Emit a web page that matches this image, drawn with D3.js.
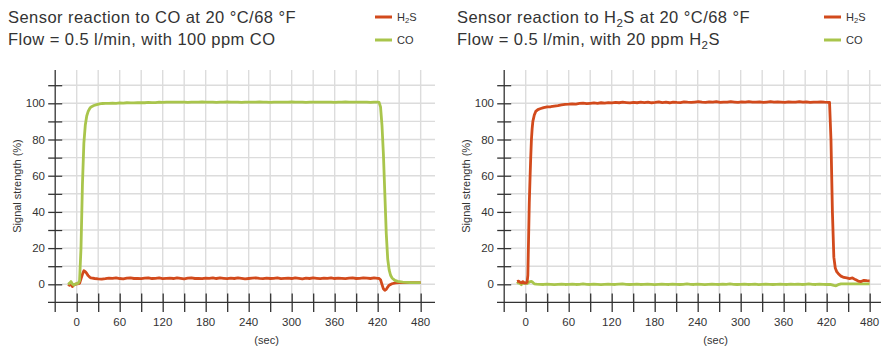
<!DOCTYPE html>
<html>
<head>
<meta charset="utf-8">
<script src="https://cdn.jsdelivr.net/npm/d3@7"></script>
<style>
  body { margin: 0; background: #fff; }
  svg { display: block; font-family: "Liberation Sans", Arial, sans-serif; }
</style>
</head>
<body>
<script>
// Define SVG area dimensions
var svgWidth = 881;
var svgHeight = 347;

// axis ticks / labels
var xTickLabels = [0, 60, 120, 180, 240, 300, 360, 420, 480];
var yTickLabels = [0, 20, 40, 60, 80, 100];

// ---- left chart: reaction to CO ----
// each series = rise part, plateau (evenly spaced between two times), fall part
var coLeftRiseT = [-12, -10, -8, -6, -4, -2, 0, 2, 4, 6, 8, 10, 12, 14, 16, 18, 20, 24, 28, 32, 36, 40];
var coLeftRiseV = [0, 0.6, 1.5, 0.2, -0.5, 0.2, 0.3, 0.5, 2, 20, 55, 78, 88, 93, 95.5, 97, 98, 98.8, 99.3, 99.7, 99.9, 100.0];
var coLeftFlat = [45, 420];
var coLeftFlatV = [100.0, 100.1, 100.0, 100.2, 100.1, 100.3, 100.2, 100.2, 100.4, 100.3,
    100.3, 100.5, 100.4, 100.4, 100.6, 100.5, 100.7, 100.6, 100.6, 100.7,
    100.6, 100.7, 100.5, 100.6, 100.7, 100.6, 100.8, 100.6, 100.7, 100.6,
    100.5, 100.7, 100.6, 100.8, 100.6, 100.7, 100.6, 100.5, 100.7, 100.6,
    100.7, 100.6, 100.8, 100.6, 100.7, 100.5, 100.6, 100.7, 100.6, 100.7,
    100.6, 100.8, 100.7, 100.6, 100.7, 100.5, 100.6, 100.7, 100.6, 100.7,
    100.6, 100.7, 100.6, 100.5, 100.7, 100.6, 100.8, 100.6, 100.7, 100.6,
    100.6, 100.7, 100.6, 100.5, 100.7, 100.6];
var coLeftFallT = [422, 424, 426, 428, 430, 432, 434, 436, 438, 440, 444, 448, 455, 465, 480];
var coLeftFallV = [100.5, 98, 88, 72, 50, 28, 14, 8, 5, 3.5, 2.2, 1.6, 1.2, 1.0, 0.9];

var h2sLeftRiseT = [-12, -10, -8, -6, -4, -2, 0, 2, 4, 6, 8, 10, 12, 14, 16, 18, 20];
var h2sLeftRiseV = [0, -0.5, 0.3, -1.2, -0.3, 0, 0.2, 0.3, 0.5, 3, 5.5, 7.5, 7, 6, 4.8, 4, 3.5];
var h2sLeftFlat = [25, 420];
var h2sLeftFlatV = [3.2, 3.0, 2.9, 3.1, 3.4, 3.3, 3.6, 3.2, 3.0, 3.4,
    3.5, 3.2, 3.3, 3.1, 3.4, 3.6, 3.2, 3.3, 3.5, 3.1,
    3.3, 3.4, 3.2, 3.6, 3.3, 3.0, 3.4, 3.5, 3.2, 3.3,
    3.1, 3.4, 3.3, 3.6, 3.2, 3.5, 3.3, 3.1, 3.4, 3.2,
    3.5, 3.3, 3.0, 3.2, 3.4, 3.6, 3.3, 3.1, 3.4, 3.2,
    3.3, 3.5, 3.1, 3.3, 3.4, 3.2, 3.6, 3.3, 3.0, 3.4,
    3.2, 3.5, 3.3, 3.1, 3.4, 3.3, 3.6, 3.2, 3.4, 3.3,
    3.1, 3.4, 3.5, 3.2, 3.3, 3.6, 3.4, 3.2, 3.5, 3.3];
var h2sLeftFallT = [422, 424, 426, 428, 430, 432, 434, 436, 440, 445, 450, 465, 480];
var h2sLeftFallV = [3.2, 2.5, 0, -2.5, -3.3, -2.8, -1.5, -0.5, 0.3, 0.8, 0.9, 0.9, 0.9];

// ---- right chart: reaction to H2S ----
var h2sRightRiseT = [-12, -10, -8, -6, -4, -2, 0, 2, 3, 4, 5, 6, 7, 8, 9, 10, 12, 14, 17, 20, 25, 30, 35, 40, 45, 50, 55];
var h2sRightRiseV = [1.5, 1.8, 1.2, 0.8, 1.5, 0.8, 0.6, 1.2, 5, 25, 45, 58, 70, 80, 86, 90, 93.5, 95.5, 96.5, 97, 97.6, 98, 98.1, 98.4, 98.7, 99.1, 99.4];
var h2sRightFlat = [60, 422];
var h2sRightFlatV = [99.5, 99.7, 99.6, 99.9, 100.1, 99.8, 100.0, 100.2, 100.0, 100.3,
    100.1, 100.4, 100.2, 100.5, 100.3, 100.6, 100.4, 100.2, 100.5, 100.3,
    100.6, 100.4, 100.7, 100.3, 100.5, 100.8, 100.4, 100.6, 100.3, 100.7,
    100.5, 100.4, 100.8, 100.6, 100.5, 100.7, 100.9, 100.6, 100.5, 100.8,
    100.6, 100.9, 100.5, 100.7, 100.6, 100.9, 100.7, 100.5, 100.8, 100.6,
    100.9, 100.7, 100.6, 100.8, 100.5, 100.7, 100.9, 100.6, 100.8, 100.7,
    100.5, 100.8, 100.6, 100.7, 100.9, 100.6, 100.8, 100.5, 100.7, 100.6,
    100.8, 100.6, 100.5];
var h2sRightFallT = [424, 426, 428, 430, 432, 434, 436, 440, 444, 448, 452, 456, 460, 464, 468, 472, 476, 480];
var h2sRightFallV = [100.5, 80, 40, 15, 9, 7, 6, 4.5, 3.8, 3.5, 3.2, 3.5, 2.6, 1.8, 1.5, 2.2, 2.0, 1.9];

var coRightRiseT = [-12, -10, -8, -6, -4, -2, 0, 2, 4, 6, 8, 10, 12];
var coRightRiseV = [0.3, 1.2, 0.5, -0.2, 0.8, 0.5, 0.9, 0.4, 1.0, 1.5, 1.6, 1.0, 0.3];
var coRightFlat = [15, 425];
var coRightFlatV = [0.1, 0.0, -0.1, 0.1, 0.0, -0.2, 0.0, 0.1, -0.1, 0.0,
    0.1, -0.1, 0.0, 0.2, 0.0, -0.1, 0.1, 0.0, -0.2, 0.0,
    0.1, 0.0, -0.1, 0.1, 0.2, 0.0, -0.1, 0.0, 0.1, -0.1,
    0.0, 0.1, 0.0, -0.2, 0.0, 0.1, 0.0, -0.1, 0.1, 0.0,
    -0.1, 0.0, 0.2, 0.0, -0.1, 0.1, 0.0, -0.2, 0.0, 0.1,
    0.0, -0.1, 0.1, 0.0, 0.2, 0.0, -0.1, 0.0, 0.1, -0.1,
    0.0, 0.1, -0.2, 0.0, 0.1, 0.0, -0.1, 0.0, 0.1, 0.0,
    -0.1, 0.1, 0.0, 0.1, -0.1, 0.0, 0.2, 0.0, -0.1, 0.1,
    0.0, -0.1, 0.0];
var coRightFallT = [430, 433, 436, 440, 445, 460, 480];
var coRightFallV = [-0.6, -0.8, -0.2, 0.2, 0.2, 0.2, 0.2];

var red = "#d24a1c";
var green = "#a9c54c";

var svg = d3.select("body").append("svg")
    .attr("width", svgWidth)
    .attr("height", svgHeight);

var xScale = d3.scaleLinear().domain([-30, 500]).range([55.2, 435]);
var yScale = d3.scaleLinear().domain([-10, 110]).range([302.4, 85.2]);

// build [t, v] points: rise part, plateau spread evenly over its time span, fall part
function buildSeries(riseT, riseV, flat, flatV, fallT, fallV) {
    var pts = riseT.map((t, i) => [t, riseV[i]]);
    var step = (flat[1] - flat[0]) / (flatV.length - 1);
    flatV.forEach((v, i) => pts.push([flat[0] + i * step, v]));
    fallT.forEach((t, i) => pts.push([t, fallV[i]]));
    return pts;
}

function h2sLabel(sel, size) {
    sel.append("tspan").text("H");
    sel.append("tspan").attr("dy", size * 0.22).style("font-size", (size * 0.7) + "px").text("2");
    sel.append("tspan").attr("dy", -size * 0.22).text("S");
}

function drawPanel(offset, titleFn, lineA, lineB) {
    var g = svg.append("g").attr("transform", "translate(" + offset + ",0)");

    // gridlines
    g.append("g").selectAll("line")
        .data(d3.range(0, 111, 10))
        .enter().append("line")
        .attr("x1", 62).attr("x2", 435)
        .attr("y1", d => yScale(d)).attr("y2", d => yScale(d))
        .attr("stroke", "#dcdcdc").attr("stroke-width", 1.4);
    g.append("g").selectAll("line")
        .data(d3.range(0, 481, 30))
        .enter().append("line")
        .attr("x1", d => xScale(d)).attr("x2", d => xScale(d))
        .attr("y1", 70).attr("y2", yScale(-10))
        .attr("stroke", "#dcdcdc").attr("stroke-width", 1.4);

    // y axis
    var yAxis = d3.axisLeft(yScale).tickValues(d3.range(0, 111, 10)).tickSize(7).tickFormat("");
    var ya = g.append("g").attr("transform", "translate(" + xScale(-30) + ",0)").call(yAxis);
    ya.select(".domain").remove();
    ya.selectAll(".tick line").attr("x2", 7).attr("x1", -7);
    ya.append("line").attr("x1", 0).attr("x2", 0).attr("y1", 70).attr("y2", 312);
    ya.selectAll("line").attr("stroke", "#333").attr("stroke-width", 1.3);
    g.append("g").selectAll("text")
        .data(yTickLabels)
        .enter().append("text")
        .attr("x", 45).attr("y", d => yScale(d) + 4)
        .attr("text-anchor", "end")
        .style("font-size", "11.5px").style("fill", "#333")
        .text(d => d);

    g.append("text")
        .attr("transform", "translate(21," + 186 + ") rotate(-90)")
        .attr("text-anchor", "middle")
        .style("font-size", "11px").style("fill", "#333")
        .text("Signal strength (%)");

    // x axis
    var xAxis = d3.axisBottom(xScale).tickValues(d3.range(0, 481, 30)).tickSize(0).tickFormat("");
    var xa = g.append("g").attr("transform", "translate(0," + yScale(-10) + ")").call(xAxis);
    xa.select(".domain").remove();
    xa.selectAll(".tick line").attr("y1", -9).attr("y2", 9.5);
    xa.append("line").attr("x1", 48).attr("x2", 435).attr("y1", 0).attr("y2", 0);
    xa.selectAll("line").attr("stroke", "#333").attr("stroke-width", 1.3);
    g.append("g").selectAll("text")
        .data(xTickLabels)
        .enter().append("text")
        .attr("x", d => xScale(d)).attr("y", 326)
        .attr("text-anchor", "middle")
        .style("font-size", "11.5px").style("fill", "#333")
        .text(d => d);
    g.append("text")
        .attr("x", xScale(265)).attr("y", 344)
        .attr("text-anchor", "middle")
        .style("font-size", "11px").style("fill", "#333")
        .text("(sec)");

    // data lines
    var line = d3.line().x(d => xScale(d[0])).y(d => yScale(d[1]));
    [lineA, lineB].forEach(function(s) {
        g.append("path")
            .datum(s.pts)
            .attr("d", line)
            .attr("fill", "none")
            .attr("stroke", s.color)
            .attr("stroke-width", 2.8)
            .attr("stroke-linejoin", "round");
    });

    // title
    var t1 = g.append("text").attr("x", 8).attr("y", 23)
        .style("font-size", "16.5px").style("letter-spacing", "0.45px").style("fill", "#333");
    var t2 = g.append("text").attr("x", 8).attr("y", 45)
        .style("font-size", "16.5px").style("letter-spacing", "0.45px").style("fill", "#333");
    titleFn(t1, t2);

    // legend
    var leg = g.append("g");
    leg.append("line").attr("x1", 375).attr("x2", 392).attr("y1", 17).attr("y2", 17)
        .attr("stroke", red).attr("stroke-width", 3);
    leg.append("line").attr("x1", 375).attr("x2", 392).attr("y1", 40).attr("y2", 40)
        .attr("stroke", green).attr("stroke-width", 3);
    var l1 = leg.append("text").attr("x", 397).attr("y", 21)
        .style("font-size", "11px").style("fill", "#333");
    h2sLabel(l1, 11);
    leg.append("text").attr("x", 397).attr("y", 44)
        .style("font-size", "11px").style("fill", "#333").text("CO");
}

drawPanel(0, function(t1, t2) {
    t1.text("Sensor reaction to CO at 20 \u00b0C/68 \u00b0F");
    t2.text("Flow = 0.5 l/min, with 100 ppm CO");
}, { pts: buildSeries(h2sLeftRiseT, h2sLeftRiseV, h2sLeftFlat, h2sLeftFlatV, h2sLeftFallT, h2sLeftFallV), color: red },
   { pts: buildSeries(coLeftRiseT, coLeftRiseV, coLeftFlat, coLeftFlatV, coLeftFallT, coLeftFallV), color: green });

drawPanel(449, function(t1, t2) {
    t1.append("tspan").text("Sensor reaction to ");
    h2sLabel(t1, 16.5);
    t1.append("tspan").text(" at 20 \u00b0C/68 \u00b0F");
    t2.append("tspan").text("Flow = 0.5 l/min, with 20 ppm ");
    h2sLabel(t2, 16.5);
}, { pts: buildSeries(coRightRiseT, coRightRiseV, coRightFlat, coRightFlatV, coRightFallT, coRightFallV), color: green },
   { pts: buildSeries(h2sRightRiseT, h2sRightRiseV, h2sRightFlat, h2sRightFlatV, h2sRightFallT, h2sRightFallV), color: red });
</script>
</body>
</html>
